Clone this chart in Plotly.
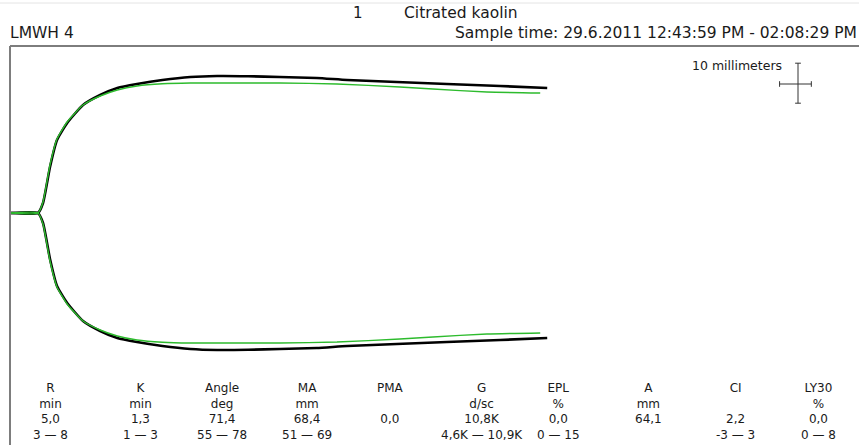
import plotly.graph_objects as go

# ---- data ----
# time in minutes, amplitude = full width of trace in mm
time_black = [0, 4.4, 5.2, 6.3, 7.4, 9.0, 11.5, 14.2, 16.9, 20.0, 24.0, 28.4, 32.6,
              37.5, 42.5, 48.3, 53.1, 60.9, 68.8, 77.2, 84.6]
amp_black = [0, 0, 5.0, 23.0, 36.5, 45.0, 54.0, 59.0, 62.5, 64.5, 66.5, 68.0, 68.5,
             68.4, 68.0, 67.5, 66.5, 65.5, 64.5, 63.5, 62.5]

time_green = [0, 4.4, 5.2, 6.3, 7.4, 9.0, 11.5, 14.2, 16.9, 20.0, 24.0, 28.4, 34.0,
              42.5, 51.5, 61.4, 66.6, 75.1, 83.5]
amp_green = [0, 0, 5.5, 24.0, 37.0, 45.5, 54.0, 58.5, 61.5, 63.5, 64.6, 65.0, 65.0,
             65.0, 64.5, 63.0, 62.0, 60.5, 60.0]

param_names = ["R", "K", "Angle", "MA", "PMA", "G", "EPL", "A", "CI", "LY30"]
param_units = ["min", "min", "deg", "mm", "", "d/sc", "%", "mm", "", "%"]
param_values = ["5,0", "1,3", "71,4", "68,4", "0,0", "10,8K", "0,0", "64,1", "2,2", "0,0"]
param_ranges = ["3 \u2014 8", "1 \u2014 3", "55 \u2014 78", "51 \u2014 69", "",
                "4,6K \u2014 10,9K", "0 \u2014 15", "", "-3 \u2014 3", "0 \u2014 8"]

title_index = "1"
title_reagent = "Citrated kaolin"
sample_name = "LMWH 4"
sample_time = "Sample time: 29.6.2011 12:43:59 PM - 02:08:29 PM"
scale_label = "10 millimeters"
scale_mm = 10       # vertical bar length (mm)
scale_min = 5       # horizontal bar length (min)

# ---- layout geometry ----
W, H = 859, 445
PX_PER_MIN = 6.35
PX_PER_MM = 4.0
X0_PX = 10          # t = 0
Y0_PX = 213         # amplitude centre line

def px(x):
    return x / W

def py(y):
    return 1 - y / H

x_range = [-X0_PX / PX_PER_MIN, (W - X0_PX) / PX_PER_MIN]
y_range = [-(H - Y0_PX) / PX_PER_MM, Y0_PX / PX_PER_MM]

BLACK = "#000000"
GREEN = "#2dbb2d"
FONT = "DejaVu Sans"

fig = go.Figure()

upper_b = [a / 2 for a in amp_black]
lower_b = [-a / 2 for a in amp_black]
upper_g = [a / 2 for a in amp_green]
lower_g = [-a / 2 for a in amp_green]

for ys in (upper_b, lower_b):
    fig.add_trace(go.Scatter(x=time_black, y=ys, mode="lines",
                             line=dict(color=BLACK, width=2.6, shape="spline", smoothing=0.5),
                             hoverinfo="skip"))
for ys in (upper_g, lower_g):
    fig.add_trace(go.Scatter(x=time_green, y=ys, mode="lines",
                             line=dict(color=GREEN, width=1.4, shape="spline", smoothing=0.5),
                             hoverinfo="skip"))

shapes = []
# frame lines
shapes.append(dict(type="line", xref="paper", yref="paper", x0=px(0), x1=px(W),
                   y0=py(3), y1=py(3), line=dict(color="#e4e4e4", width=1)))
shapes.append(dict(type="line", xref="paper", yref="paper", x0=px(10), x1=px(W),
                   y0=py(46), y1=py(46), line=dict(color="#7d7d7d", width=2)))
shapes.append(dict(type="line", xref="paper", yref="paper", x0=px(10), x1=px(10),
                   y0=py(46), y1=py(H), line=dict(color="#7d7d7d", width=2)))

# scale cross (in data units)
cx = (798 - X0_PX) / PX_PER_MIN
cy = (Y0_PX - 84) / PX_PER_MM
vx = cx
v0, v1 = cy + scale_mm / 2 + 0.2, cy - scale_mm / 2 + 0.2
h0, h1 = cx - scale_min / 2 - 0.4, cx + scale_min / 2 - 0.4
cap_t = 0.45
cap_a = 0.7
cross = "#333333"
shapes += [
    dict(type="line", x0=vx, x1=vx, y0=v0, y1=v1, line=dict(color=cross, width=1)),
    dict(type="line", x0=vx - cap_t, x1=vx + cap_t, y0=v0, y1=v0, line=dict(color=cross, width=1)),
    dict(type="line", x0=vx - cap_t, x1=vx + cap_t, y0=v1, y1=v1, line=dict(color=cross, width=1)),
    dict(type="line", x0=h0, x1=h1, y0=cy, y1=cy, line=dict(color=cross, width=1)),
    dict(type="line", x0=h0, x1=h0, y0=cy - cap_a, y1=cy + cap_a, line=dict(color=cross, width=1)),
    dict(type="line", x0=h1, x1=h1, y0=cy - cap_a, y1=cy + cap_a, line=dict(color=cross, width=1)),
]

ann = []
def text(s, x, y, anchor="left", size=14, color="#1a1a1a"):
    ann.append(dict(text=s, x=px(x), y=py(y), xref="paper", yref="paper",
                    xanchor=anchor, yanchor="middle", showarrow=False,
                    font=dict(family=FONT, size=size, color=color)))

text(title_index, 358, 13, "center", 15)
text(title_reagent, 402, 13, "left", 15.5)
text(sample_name, 8, 33, "left", 15.5)
text(sample_time, 453, 33, "left", 15.5)
text(scale_label, 690, 65, "left", 12.5)

# parameter table: one multi-line text block per column
col_x = [50, 140, 222, 307, 390, 482, 558, 648, 735, 818]
table_mid_y = 411
for i in range(len(param_names)):
    cells = [row[i] if row[i] else "\u00a0"
             for row in (param_names, param_units, param_values, param_ranges)]
    ann.append(dict(text="<br>".join(cells), x=px(col_x[i]), y=py(table_mid_y),
                    xref="paper", yref="paper", xanchor="center", yanchor="middle",
                    align="center", showarrow=False, borderpad=0,
                    font=dict(family=FONT, size=12, color="#1a1a1a")))

fig.update_layout(
    width=W, height=H,
    margin=dict(l=0, r=0, t=0, b=0),
    paper_bgcolor="white", plot_bgcolor="white",
    showlegend=False, hovermode=False,
    xaxis=dict(range=x_range, visible=False, fixedrange=True),
    yaxis=dict(range=y_range, visible=False, fixedrange=True),
    shapes=shapes, annotations=ann,
)

fig.write_html("out.html", config={"displayModeBar": False},
               post_script="document.body.style.margin='0';document.body.style.overflow='hidden';")
